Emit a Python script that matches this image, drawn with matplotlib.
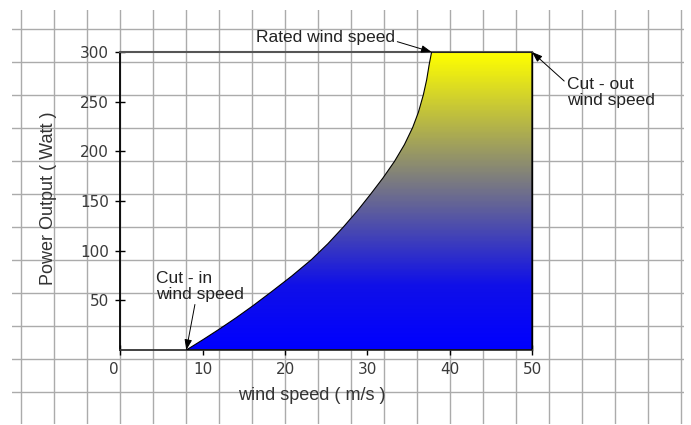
import numpy as np
import matplotlib
matplotlib.use("Agg")
import matplotlib.pyplot as plt
import matplotlib.transforms as mtransforms
from matplotlib.colors import LinearSegmentedColormap
from matplotlib.patches import Polygon
from matplotlib.ticker import MultipleLocator

# power curve (wind speed in m/s, power in W)
wind = [8.0, 10.0, 12.0, 14.0, 16.0, 18.4, 20.8, 23.2, 25.2, 27.1, 28.8,
        30.4, 31.9, 33.3, 34.5, 35.5, 36.2, 36.8, 37.2, 37.5, 37.8]
power = [0, 10.3, 21, 32.2, 44, 59, 74.4, 91, 107, 124, 140.3,
         157, 173.3, 190, 206.8, 224, 239.4, 257, 272, 287, 300]
cut_in = 8.0
rated_speed = 37.8
cut_out = 50
rated_power = 300

x_ticks = [0, 10, 20, 30, 40, 50]
y_ticks = [50, 100, 150, 200, 250, 300]

W, H = 691, 425
fig = plt.figure(figsize=(W / 100, H / 100), dpi=100)

# graph-paper background over the whole picture
bg = fig.add_axes([12 / W, 1 - 424 / H, 672 / W, 414 / H], zorder=0)
bg.set_xlim(-9, 663)
bg.set_ylim(395, -19)
bg.xaxis.set_major_locator(MultipleLocator(33))
bg.yaxis.set_major_locator(MultipleLocator(33))
bg.grid(True, color="#ababab", lw=1.0)
bg.tick_params(length=0, labelbottom=False, labelleft=False)
for s in bg.spines.values():
    s.set_visible(False)

ax = fig.add_axes([120.5 / W, 1 - 350 / H, 411.5 / W, 298 / H], zorder=1)
ax.patch.set_alpha(0)

# gradient fill under the power curve
cmap = LinearSegmentedColormap.from_list(
    "bluey", [(0, "#0000ff"), (65 / 300, "#1010e8"), (1, "#ffff00")])
grad = np.linspace(0, rated_power, 300).reshape(-1, 1)
im = ax.imshow(grad, extent=[0, cut_out, 0, rated_power], origin="lower",
               aspect="auto", cmap=cmap, vmin=0, vmax=rated_power, zorder=2)
verts = list(zip(wind, power)) + [(cut_out, rated_power), (cut_out, 0)]
shape = Polygon(verts, closed=True, fc="none", ec="black", lw=0.8,
                joinstyle="round", zorder=3)
ax.add_patch(shape)
im.set_clip_path(shape)

ax.set_xlim(0, cut_out)
ax.set_ylim(0, rated_power)
ax.set_xticks(x_ticks)
ax.set_yticks(y_ticks)
ax.tick_params(direction="inout", length=7, width=1.0, color="black",
               labelsize=11, labelcolor="#3a3a3a", pad=5)
# the origin "0" sits a little to the left in the original
zero = ax.get_xticklabels()[0]
zero.set_transform(zero.get_transform() +
                   mtransforms.ScaledTranslation(-7 / 100, 0, fig.dpi_scale_trans))

ax.spines["top"].set_color("#555555")
ax.spines["top"].set_linewidth(1.5)
ax.spines["left"].set_color("black")
ax.spines["left"].set_linewidth(1.3)
ax.spines["bottom"].set_color("#333333")
ax.spines["bottom"].set_linewidth(1.3)
ax.spines["right"].set_color("black")
ax.spines["right"].set_linewidth(1.0)

lab = dict(family="Liberation Sans", fontsize=13, color="#333333")
ax.set_xlabel("wind speed ( m/s )", va="center", **lab)
ax.xaxis.set_label_coords(0.465, -0.154)
ax.set_ylabel("Power Output ( Watt )", va="center", **lab)
ax.yaxis.set_label_coords(-0.176, 0.51)

note = dict(family="Liberation Sans", fontsize=12.5, color="#222222",
            annotation_clip=False, linespacing=1.05)
arrow = dict(arrowstyle="-|>,head_length=0.5,head_width=0.18",
             color="black", lw=0.7, shrinkA=0, shrinkB=0)

ax.annotate("Rated wind speed", xy=(rated_speed, rated_power),
            xytext=(24.85, 315), ha="center", va="center",
            arrowprops=dict(arrow, relpos=(1.0, 0.25)), **note)
ax.annotate("Cut - out\nwind speed", xy=(cut_out, rated_power),
            xytext=(54.25, 259), ha="left", va="center",
            arrowprops=dict(arrow, relpos=(0.0, 0.8)), **note)
ax.annotate("Cut - in\nwind speed", xy=(cut_in, 0),
            xytext=(4.3, 64), ha="left", va="center",
            arrowprops=dict(arrow, relpos=(0.45, 0.0)), **note)

fig.savefig("out.png", dpi=100)
